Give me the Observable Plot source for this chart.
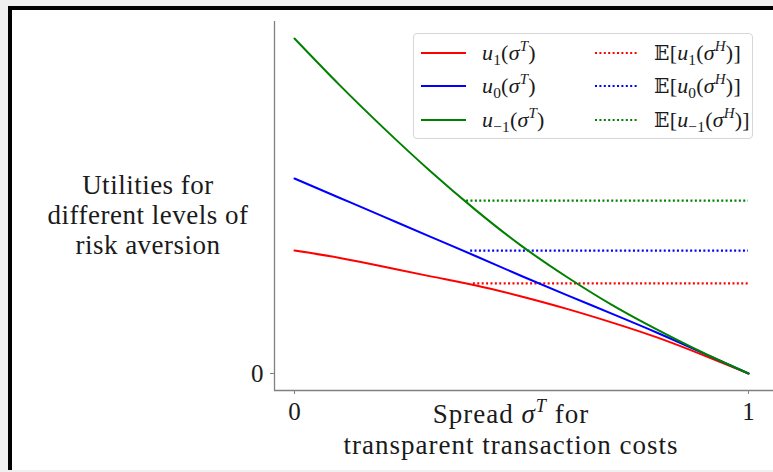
<!DOCTYPE html>
<html>
<head>
<meta charset="utf-8">
<script src="https://cdn.jsdelivr.net/npm/d3@7"></script>
<script src="https://cdn.jsdelivr.net/npm/@observablehq/plot@0.6"></script>
<style>
  html, body { margin: 0; padding: 0; background: #f0f0f0; }
  #wrap { position: relative; width: 773px; height: 472px; overflow: hidden; }
  #panel { position: absolute; left: 8px; top: 6px; width: 800px; height: 460px;
           background: #fff; border-top: 4px solid #000; border-left: 4px solid #000; }
  #chart { position: absolute; left: 0; top: 0; }
  .serif { font-family: "Liberation Serif", "DejaVu Serif", serif; color: #1a1a1a; }
  .ylab { position: absolute; left: 28px; width: 240px; text-align: center; font-size: 27px;
          letter-spacing: 0.5px; line-height: 30px; }
  .xlab { position: absolute; left: 311px; width: 400px; text-align: center; font-size: 27px;
          letter-spacing: 1px; line-height: 28px; }
  i { font-style: italic; }
  .sup { font-size: 0.68em; position: relative; top: -0.6em; }
  .sub { font-size: 0.7em; position: relative; top: 0.3em; font-style: normal; }
  #legend { position: absolute; left: 413px; top: 33px; width: 338px; height: 104px;
            border: 1px solid #d6d6d6; border-radius: 4px; background: rgba(255,255,255,0.85); }
  .lrow { position: absolute; height: 24px; font-size: 22px; line-height: 24px; white-space: nowrap; letter-spacing: 0.2px; }
  .lrow svg { position: absolute; top: 0; }
  .bb { font-family: "DejaVu Serif", "DejaVu Sans", serif; font-style: normal; font-size: 0.92em; }
</style>
</head>
<body>
<div id="wrap">
  <div id="panel"></div>
  <div id="chart"></div>
</div>
<script>
// ---- data ----
const sigma = [0, 0.1, 0.2, 0.3, 0.4, 0.5, 0.6, 0.7, 0.8, 0.9, 1.0];
const u1  = [0.367, 0.345, 0.318, 0.290, 0.263, 0.230, 0.193, 0.152, 0.107, 0.055, 0];
const u0  = [0.582, 0.524, 0.466, 0.408, 0.350, 0.291, 0.234, 0.178, 0.121, 0.061, 0];
const um1 = [1.000, 0.860, 0.728, 0.603, 0.487, 0.381, 0.288, 0.204, 0.130, 0.062, 0];
const expected   = [0.269, 0.367, 0.516];   // E[u_1], E[u_0], E[u_-1]
const expStart   = [0.394, 0.388, 0.379];
const expEnd     = [1, 1, 1];
const seriesKeys = ["1", "0", "\u22121"];
const colors     = ["#ff0000", "#0000ff", "#008000"];
const xTicks = [0, 1];
const yTicks = [0];

const curves = [u1, u0, um1];
const lineData = [];
curves.forEach((arr, k) => arr.forEach((v, i) => lineData.push({x: sigma[i], y: v, k})));
const expData = expected.map((v, k) => ({y: v, x1: expStart[k], x2: expEnd[k], k}));

const xDomain = [-0.04405, 1.0551];
const yDomain = [-0.0507, 1.0507];

const plot = Plot.plot({
  width: 773, height: 472,
  marginLeft: 274, marginRight: 0, marginTop: 21, marginBottom: 82,
  x: {domain: xDomain},
  y: {domain: yDomain},
  style: {background: "none", fontFamily: "'Liberation Serif', serif", color: "#1a1a1a"},
  marks: [
    Plot.ruleX([xDomain[0]], {stroke: "#808080", strokeWidth: 1.3}),
    Plot.ruleY([yDomain[0]], {stroke: "#808080", strokeWidth: 1.3}),
    Plot.axisX({ticks: xTicks, tickFormat: d => String(d), tickSize: 4, tickPadding: 8, fontSize: 25, stroke: "#808080", fill: "#1a1a1a", label: null}),
    Plot.axisY({ticks: yTicks, tickFormat: d => String(d), tickSize: 4, tickPadding: 7, fontSize: 25, stroke: "#808080", fill: "#1a1a1a", label: null}),
    Plot.ruleY(expData, {y: "y", x1: "x1", x2: "x2", stroke: d => colors[d.k], strokeWidth: 2.2, strokeDasharray: "2,2.4"}),
    Plot.line(lineData, {x: "x", y: "y", z: "k", stroke: d => colors[d.k], strokeWidth: 2, curve: "natural"})
  ]
});
document.getElementById("chart").appendChild(plot);

// axis labels
const wrap = document.getElementById("wrap");
const ylab = document.createElement("div");
ylab.className = "serif ylab";
ylab.style.top = "170px";
ylab.innerHTML = "Utilities for<br>different levels of<br>risk aversion";
wrap.appendChild(ylab);

const xlab = document.createElement("div");
xlab.className = "serif xlab";
xlab.style.top = "400px";
xlab.innerHTML = "Spread <i>σ</i><span class='sup'><i>T</i></span> for<br>transparent transaction costs";
wrap.appendChild(xlab);

// legend
const legend = document.createElement("div");
legend.id = "legend";
legend.className = "serif";
const rowTops = [7, 40, 74];
seriesKeys.forEach((key, k) => {
  const r1 = document.createElement("div");
  r1.className = "lrow";
  r1.style.left = "7px"; r1.style.top = rowTops[k] + "px";
  r1.innerHTML = `<svg width="46" height="24"><line x1="0" x2="45" y1="12" y2="12" stroke="${colors[k]}" stroke-width="2"/></svg>` +
    `<span style="position:absolute;left:61px;top:0"><i>u</i><span class="sub">${key}</span>(<i>σ</i><span class="sup"><i>T</i></span>)</span>`;
  legend.appendChild(r1);
  const r2 = document.createElement("div");
  r2.className = "lrow";
  r2.style.left = "181px"; r2.style.top = rowTops[k] + "px";
  r2.innerHTML = `<svg width="44" height="24"><line x1="0" x2="43" y1="12" y2="12" stroke="${colors[k]}" stroke-width="2" stroke-dasharray="2,2.4"/></svg>` +
    `<span style="position:absolute;left:59px;top:0"><span class="bb">𝔼</span>[<i>u</i><span class="sub">${key}</span>(<i>σ</i><span class="sup"><i>H</i></span>)]</span>`;
  legend.appendChild(r2);
});
wrap.appendChild(legend);
</script>
</body>
</html>
